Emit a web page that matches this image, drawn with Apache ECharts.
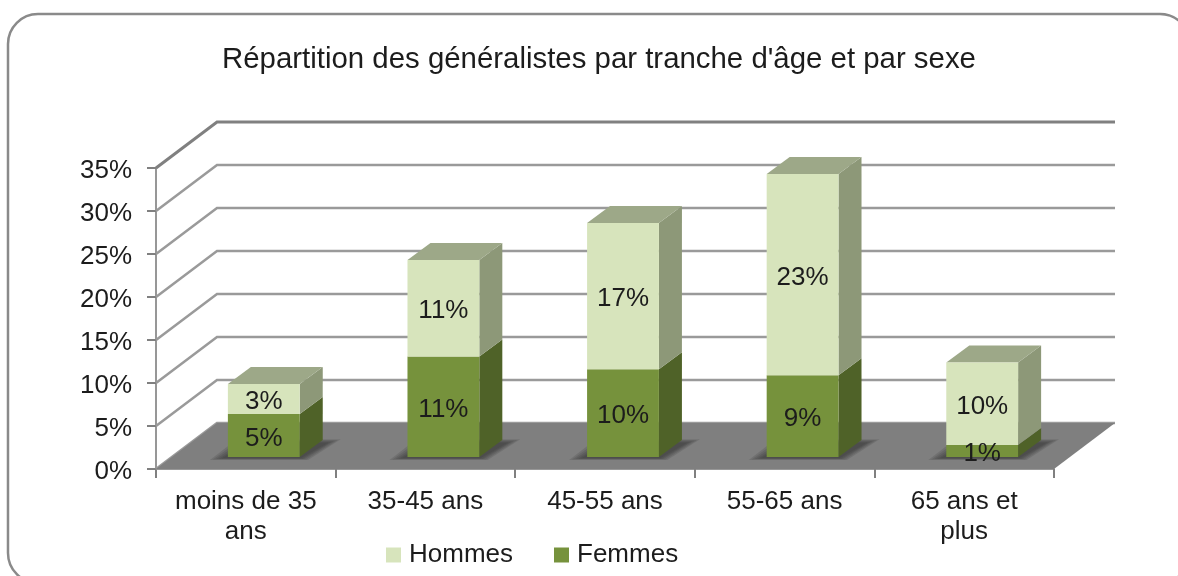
<!DOCTYPE html>
<html>
<head>
<meta charset="utf-8">
<script src="https://cdn.jsdelivr.net/npm/echarts@6/dist/echarts.min.js"></script>
<style>html,body{margin:0;padding:0;background:#fff}#c{width:1178px;height:576px}</style>
</head>
<body>
<div id="c"></div>
<script>
var categories = ['moins de 35\nans', '35-45 ans', '45-55 ans', '55-65 ans', '65 ans et\nplus'];
var femmes = [5, 11.7, 10.2, 9.5, 1.4];
var hommes = [3.5, 11.2, 17, 23.4, 9.6];
var femmesLabels = ['5%', '11%', '10%', '9%', '1%'];
var hommesLabels = ['3%', '11%', '17%', '23%', '10%'];
var yTicks = [0, 5, 10, 15, 20, 25, 30, 35];

var FONT = '"Liberation Sans", Arial, sans-serif';
var WALL = [61, -46];   // depth of the chart box
var INSET = [18, -12];  // bar front relative to chart front
var DEPTH = [23, -17];  // depth of a bar
var SHADOW_SPREAD = [14, 11, 8, 5, 2];

function wallItem(params, api) {
  var cs = params.coordSys;
  var y = api.coord([0, api.value(0)])[1];
  var x0 = cs.x, x1 = cs.x + cs.width;
  var top = params.dataIndex === yTicks.length - 1;
  var children = [{
    type: 'polyline',
    shape: { points: [[x0, y], [x0 + WALL[0], y + WALL[1]], [x1 + WALL[0], y + WALL[1]]] },
    style: { fill: 'none', stroke: top ? '#808080' : '#9a9a9a', lineWidth: top ? 3 : 2.5 }
  }];
  if (params.dataIndex === 0) {
    children.push({
      type: 'polygon',
      shape: { points: [[x0, y], [x0 + WALL[0], y + WALL[1]], [x1 + WALL[0], y + WALL[1]], [x1, y]] },
      style: { fill: '#7f7f7f' }
    });
  }
  return { type: 'group', children: children };
}

function barGeom(i, api, base, value) {
  var w = api.size([1, 0])[0] * 0.4;
  var cx = api.coord([i, 0])[0] + INSET[0];
  return {
    cx: cx, xl: cx - w / 2, xr: cx + w / 2, w: w,
    yb: api.coord([i, base])[1] + INSET[1],
    yt: api.coord([i, base + value])[1] + INSET[1]
  };
}

function barItem(params, api, bases, values, c) {
  var i = params.dataIndex;
  var g = barGeom(i, api, bases[i], values[i]);
  var xl = g.xl, xr = g.xr, yb = g.yb, yt = g.yt;
  var dx = DEPTH[0], dy = DEPTH[1];
  var kids = [];
  if (c.shadow) {
    SHADOW_SPREAD.forEach(function (s) {
      var v = s * 0.45;
      kids.push({
        type: 'polygon',
        shape: { points: [
          [xl - 4 - s, yb + 1 + v * 0.3], [xr + s * 0.6, yb + 1 + v * 0.3],
          [xr + dx + 4 + s, yb + dy + 3 - v * 0.6], [xl + dx - s, yb + dy + 3 - v * 0.6]
        ] },
        style: { fill: 'rgba(50,50,50,0.17)' }
      });
    });
  }
  kids.push({
    type: 'polygon',
    shape: { points: [[xr, yb], [xr + dx, yb + dy], [xr + dx, yt + dy], [xr, yt]] },
    style: { fill: c.side }
  });
  if (c.top) {
    kids.push({
      type: 'polygon',
      shape: { points: [[xl, yt], [xl + dx, yt + dy], [xr + dx, yt + dy], [xr, yt]] },
      style: { fill: c.top }
    });
  }
  kids.push({
    type: 'rect',
    shape: { x: xl, y: yt, width: g.w, height: yb - yt },
    style: { fill: c.front }
  });
  return { type: 'group', children: kids };
}

function labelItem(params, api) {
  var i = params.dataIndex;
  var f = barGeom(i, api, 0, femmes[i]);
  var h = barGeom(i, api, femmes[i], hommes[i]);
  function txt(g, s) {
    return {
      type: 'text',
      style: {
        text: s, x: g.cx, y: (g.yt + g.yb) / 2 + 3, align: 'center', verticalAlign: 'middle',
        font: '26px ' + FONT, fill: '#1c1c1c'
      }
    };
  }
  return { type: 'group', children: [txt(f, femmesLabels[i]), txt(h, hommesLabels[i])] };
}

var zeros = femmes.map(function () { return 0; });
var chart = echarts.init(document.getElementById('c'), null, { renderer: 'canvas' });
chart.setOption({
  animation: false,
  backgroundColor: '#ffffff',
  title: {
    text: "Répartition des généralistes par tranche d'âge et par sexe",
    left: 594, top: 40, textAlign: 'center',
    textStyle: { fontFamily: FONT, fontSize: 29.4, fontWeight: 'normal', color: '#1c1c1c' }
  },
  graphic: [{
    type: 'rect', z: -1, silent: true,
    shape: { x: 8, y: 14, width: 1182, height: 569, r: 30 },
    style: { fill: 'none', stroke: '#8a8a8a', lineWidth: 2.5 }
  }],
  legend: {
    data: ['Hommes', 'Femmes'],
    left: 381, top: 537, itemWidth: 15, itemHeight: 15, itemGap: 41,
    icon: 'rect',
    textStyle: { fontFamily: FONT, fontSize: 26, color: '#1c1c1c', padding: [0, 0, 0, 3] }
  },
  grid: { left: 156, right: 124, top: 168, bottom: 107 },
  xAxis: {
    type: 'category',
    data: categories,
    axisLine: { lineStyle: { color: '#979797', width: 2 } },
    axisTick: { show: true, length: 9, alignWithLabel: false, lineStyle: { color: '#808080', width: 2 } },
    axisLabel: { interval: 0, margin: 18, fontFamily: FONT, fontSize: 26, lineHeight: 30, color: '#1c1c1c' }
  },
  yAxis: {
    type: 'value', min: 0, max: 35, interval: 5,
    splitLine: { show: false },
    axisLine: { show: true, lineStyle: { color: '#979797', width: 2 } },
    axisTick: { show: true, length: 9, lineStyle: { color: '#808080', width: 2 } },
    axisLabel: {
      formatter: '{a|{value}%}', margin: 24,
      rich: { a: { padding: [5, 0, 0, 0], fontFamily: FONT, fontSize: 26, color: '#1c1c1c' } }
    }
  },
  series: [
    {
      name: 'wall', type: 'custom', z: 1, silent: true,
      encode: { y: 0 },
      data: yTicks.map(function (v) { return [v]; }),
      renderItem: wallItem
    },
    {
      name: 'Femmes', type: 'custom', z: 2, silent: true,
      itemStyle: { color: '#76923c' },
      data: femmes,
      renderItem: function (p, api) {
        return barItem(p, api, zeros, femmes, { front: '#76923c', side: '#4f6228', shadow: true });
      }
    },
    {
      name: 'Hommes', type: 'custom', z: 3, silent: true,
      itemStyle: { color: '#d7e4bc' },
      data: hommes,
      renderItem: function (p, api) {
        return barItem(p, api, femmes, hommes, { front: '#d7e4bc', side: '#8d9878', top: '#9da888' });
      }
    },
    {
      name: 'labels', type: 'custom', z: 4, silent: true,
      data: categories.map(function (c, i) { return i; }),
      renderItem: labelItem
    }
  ]
});
</script>
</body>
</html>
